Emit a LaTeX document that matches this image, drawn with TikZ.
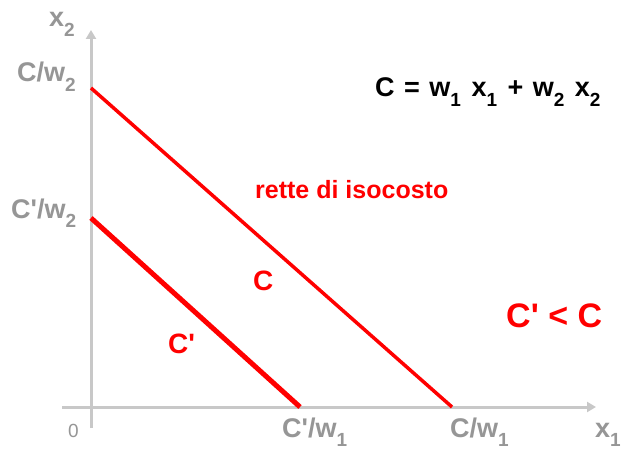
\documentclass[tikz,border=0pt]{standalone}
\usepackage{fontspec}
\setmainfont{Liberation Sans}[Ligatures=TeXOff]
\usetikzlibrary{arrows.meta}
\definecolor{axisgray}{RGB}{200,200,200}
\definecolor{labgray}{RGB}{150,150,150}
\definecolor{isored}{RGB}{255,0,0}
\newcommand{\subs}[1]{\raisebox{-0.36em}{\fontsize{19}{19}\selectfont #1}}
\begin{document}
\begin{tikzpicture}[x=1pt,y=-1pt,
  glab/.style={inner sep=0pt,anchor=base west,text=labgray,font=\fontsize{27}{27}\selectfont\bfseries},
  rlab/.style={inner sep=0pt,anchor=base west,text=isored,font=\fontsize{25}{25}\selectfont\bfseries},
  axisline/.style={draw=axisgray,line width=3pt,-{Triangle[length=9pt,width=10pt]}},
  isoline/.style={draw=isored,line width=3.5pt}]
\useasboundingbox[fill=white] (0,0) rectangle (622,452);
% axes
\coordinate (ylow) at (91,428);
\coordinate (ytop) at (91,30);
\coordinate (xleft) at (62,407);
\coordinate (xright) at (596,407);
\draw[axisline] (ylow) -- (ytop);
\draw[axisline] (xleft) -- (xright);
% isocost lines
\coordinate (c2) at (91,88);
\coordinate (c1) at (452,407);
\coordinate (cp2) at (91,218);
\coordinate (cp1) at (300,407);
\draw[isoline] (c2) -- (c1);
\draw[isoline,line width=5pt] (cp2) -- (cp1);
% labels
\node[glab] (lx2) at (49,27) {x\subs{2}};
\node[glab] (lx1) at (595,437) {x\subs{1}};
\node[glab,font=\fontsize{19}{19}\selectfont] (l0) at (68,437) {0};
\node[glab] (lcw2) at (17,82) {C/w\subs{2}};
\node[glab] (lcpw2) at (11,218) {C'/w\subs{2}};
\node[glab] (lcpw1) at (282,437) {C'/w\subs{1}};
\node[glab] (lcw1) at (450,437) {C/w\subs{1}};
\node[rlab,text=black,font=\fontsize{27}{27}\selectfont\bfseries] (formula) at (375,97) {C\hspace{2pt} = \hspace{2pt}w\subs{1}\hspace{3pt} x\subs{1}\hspace{3pt} + \hspace{2pt}w\subs{2}\hspace{3pt} x\subs{2}};
\node[rlab] (rette) at (255,198) {rette di isocosto};
\node[rlab,font=\fontsize{28}{28}\selectfont\bfseries] (lc) at (253,290) {C};
\node[rlab,font=\fontsize{28}{28}\selectfont\bfseries] (lcp) at (168,353) {C'};
\node[rlab,font=\fontsize{34}{34}\selectfont\bfseries] (ineq) at (506,327) {C' < C};
\end{tikzpicture}
\end{document}
